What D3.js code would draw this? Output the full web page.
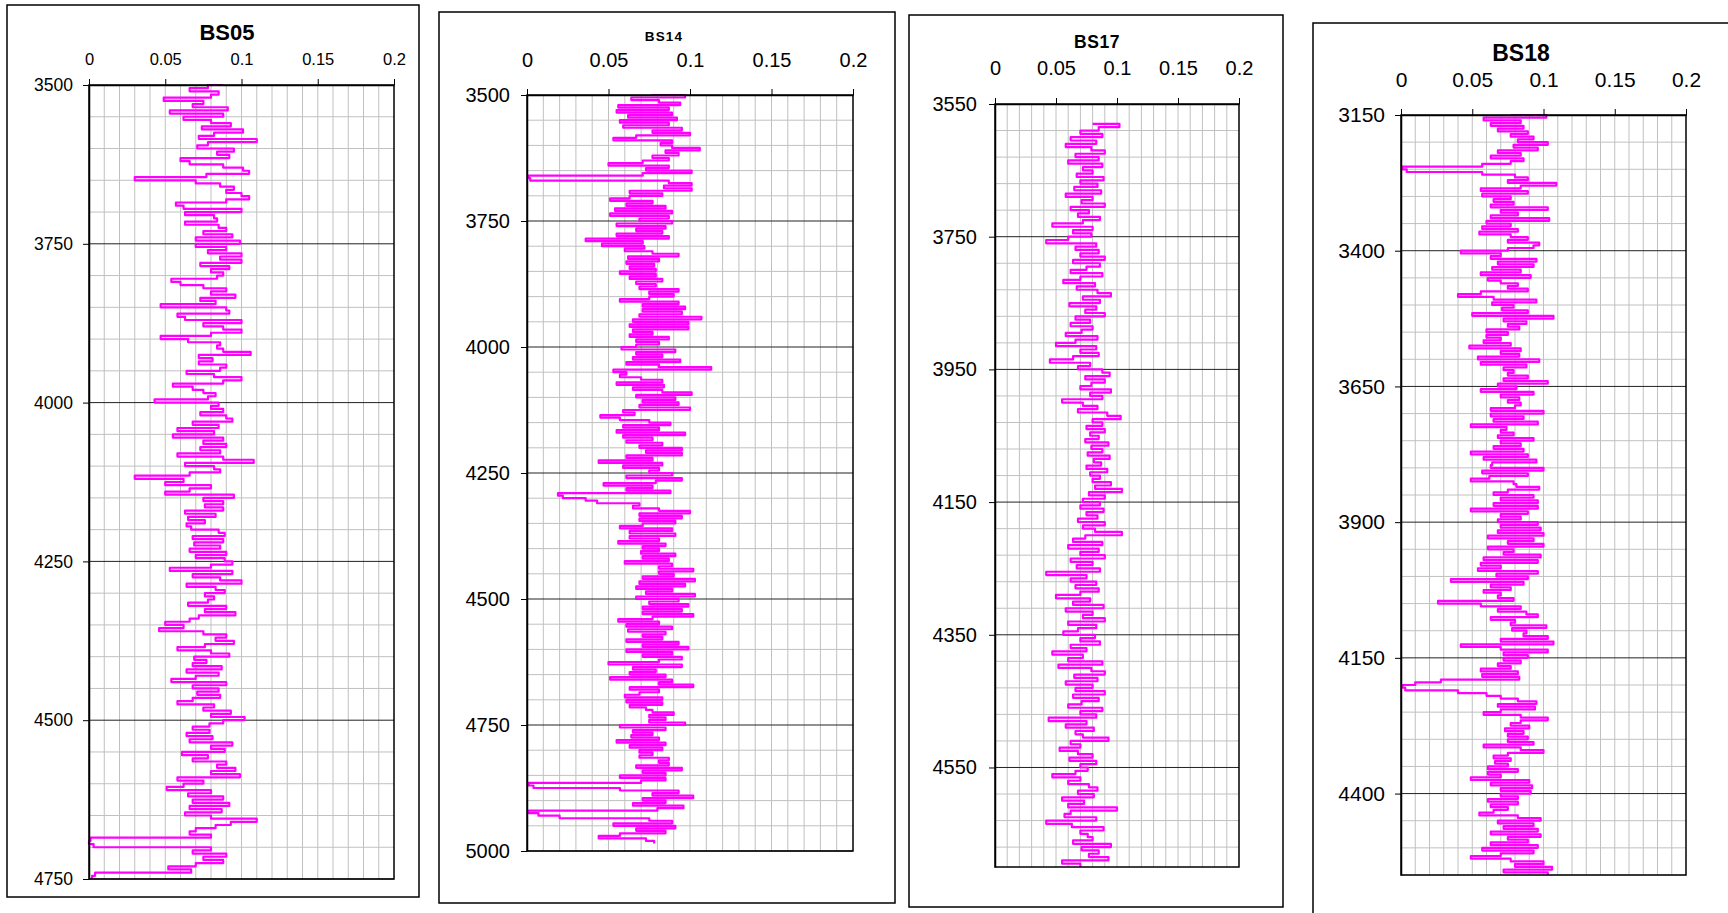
<!DOCTYPE html>
<html>
<head>
<meta charset="utf-8">
<script src="https://cdn.jsdelivr.net/npm/d3@7"></script>
<style>
  body { margin: 0; background: #fff; }
  text { font-family: "Liberation Sans", Arial, sans-serif; fill: #000; }
</style>
</head>
<body>
<svg id="chart" width="1728" height="913"></svg>
<script>
// porosity axis shared by all four wells
const porosityRange = [0, 0.2];
const porosityTicks = [0, 0.05, 0.1, 0.15, 0.2];
const porosityMinor = 0.01;

// depth axes (m)
const bs05DepthRange = [3500, 4750];
const bs05DepthTicks = [3500, 3750, 4000, 4250, 4500, 4750];
const bs14DepthRange = [3500, 5000];
const bs14DepthTicks = [3500, 3750, 4000, 4250, 4500, 4750, 5000];
const bs17DepthRange = [3550, 4700];
const bs17DepthTicks = [3550, 3750, 3950, 4150, 4350, 4550];
const bs18DepthRange = [3150, 4550];
const bs18DepthTicks = [3150, 3400, 3650, 3900, 4150, 4400];

// log curves: first sample depth, sample spacing, porosity readings (one per sample)
const bs05Top = 3500, bs05Step = 5;
const bs05Values = [
  0.088, 0.078, 0.066, 0.085, 0.080, 0.049, 0.075, 0.068, 0.091, 0.053,
  0.088, 0.062, 0.080, 0.093, 0.074, 0.101, 0.082, 0.072, 0.110, 0.078,
  0.071, 0.095, 0.084, 0.092, 0.060, 0.066, 0.088, 0.101, 0.105, 0.077,
  0.030, 0.070, 0.086, 0.095, 0.090, 0.100, 0.105, 0.090, 0.057, 0.062,
  0.100, 0.063, 0.082, 0.084, 0.063, 0.085, 0.090, 0.075, 0.094, 0.070,
  0.099, 0.070, 0.090, 0.078, 0.100, 0.086, 0.100, 0.073, 0.092, 0.080,
  0.088, 0.084, 0.054, 0.060, 0.075, 0.090, 0.080, 0.096, 0.073, 0.083,
  0.047, 0.090, 0.092, 0.058, 0.063, 0.100, 0.075, 0.088, 0.100, 0.080,
  0.047, 0.065, 0.086, 0.084, 0.088, 0.106, 0.072, 0.081, 0.072, 0.090,
  0.086, 0.064, 0.082, 0.100, 0.088, 0.055, 0.068, 0.075, 0.083, 0.078,
  0.043, 0.085, 0.080, 0.088, 0.073, 0.090, 0.094, 0.068, 0.085, 0.058,
  0.082, 0.055, 0.088, 0.075, 0.090, 0.073, 0.086, 0.058, 0.088, 0.108,
  0.063, 0.082, 0.086, 0.066, 0.030, 0.062, 0.050, 0.080, 0.066, 0.050,
  0.095, 0.075, 0.088, 0.076, 0.088, 0.063, 0.083, 0.065, 0.076, 0.064,
  0.067, 0.085, 0.089, 0.068, 0.088, 0.069, 0.086, 0.066, 0.090, 0.070,
  0.089, 0.094, 0.080, 0.053, 0.094, 0.068, 0.086, 0.100, 0.064, 0.083,
  0.089, 0.076, 0.082, 0.078, 0.065, 0.090, 0.076, 0.096, 0.072, 0.066,
  0.050, 0.062, 0.046, 0.075, 0.090, 0.083, 0.095, 0.076, 0.058, 0.080,
  0.092, 0.069, 0.077, 0.068, 0.087, 0.064, 0.085, 0.070, 0.054, 0.090,
  0.068, 0.085, 0.071, 0.086, 0.068, 0.058, 0.082, 0.075, 0.093, 0.080,
  0.102, 0.088, 0.079, 0.068, 0.079, 0.064, 0.081, 0.066, 0.094, 0.080,
  0.089, 0.061, 0.078, 0.068, 0.090, 0.084, 0.096, 0.080, 0.099, 0.058,
  0.075, 0.062, 0.051, 0.080, 0.065, 0.088, 0.068, 0.092, 0.066, 0.087,
  0.063, 0.080, 0.110, 0.093, 0.083, 0.070, 0.066, 0.080, 0.001, 0.000,
  0.003, 0.080, 0.068, 0.090, 0.075, 0.088, 0.070, 0.052, 0.067, 0.004,
  0.002
];

const bs14Top = 3500, bs14Step = 5;
const bs14Values = [
  0.076, 0.097, 0.064, 0.081, 0.094, 0.056, 0.087, 0.055, 0.089, 0.062,
  0.092, 0.057, 0.087, 0.059, 0.095, 0.077, 0.100, 0.067, 0.053, 0.089,
  0.082, 0.089, 0.106, 0.085, 0.093, 0.077, 0.087, 0.071, 0.050, 0.087,
  0.073, 0.101, 0.071, 0.001, 0.002, 0.087, 0.101, 0.084, 0.101, 0.063,
  0.083, 0.063, 0.051, 0.077, 0.061, 0.085, 0.054, 0.089, 0.051, 0.087,
  0.069, 0.089, 0.055, 0.085, 0.067, 0.083, 0.055, 0.087, 0.036, 0.071,
  0.046, 0.072, 0.060, 0.077, 0.093, 0.062, 0.081, 0.061, 0.078, 0.063,
  0.079, 0.057, 0.079, 0.063, 0.083, 0.067, 0.079, 0.069, 0.093, 0.075,
  0.090, 0.075, 0.057, 0.093, 0.071, 0.097, 0.071, 0.095, 0.069, 0.107,
  0.065, 0.099, 0.063, 0.099, 0.065, 0.077, 0.063, 0.087, 0.067, 0.081,
  0.067, 0.058, 0.091, 0.067, 0.083, 0.065, 0.094, 0.061, 0.081, 0.113,
  0.053, 0.061, 0.057, 0.070, 0.083, 0.055, 0.084, 0.065, 0.083, 0.101,
  0.067, 0.091, 0.071, 0.093, 0.069, 0.100, 0.059, 0.066, 0.045, 0.057,
  0.075, 0.088, 0.059, 0.081, 0.055, 0.097, 0.059, 0.077, 0.061, 0.083,
  0.069, 0.095, 0.073, 0.095, 0.061, 0.077, 0.044, 0.083, 0.059, 0.081,
  0.075, 0.089, 0.061, 0.095, 0.079, 0.047, 0.077, 0.061, 0.088, 0.019,
  0.022, 0.036, 0.043, 0.069, 0.065, 0.081, 0.100, 0.069, 0.095, 0.069,
  0.091, 0.071, 0.057, 0.089, 0.063, 0.091, 0.063, 0.081, 0.056, 0.085,
  0.071, 0.081, 0.070, 0.091, 0.071, 0.087, 0.060, 0.089, 0.081, 0.102,
  0.081, 0.090, 0.071, 0.103, 0.069, 0.097, 0.067, 0.089, 0.073, 0.103,
  0.067, 0.093, 0.075, 0.099, 0.071, 0.095, 0.071, 0.102, 0.077, 0.056,
  0.081, 0.061, 0.089, 0.062, 0.085, 0.071, 0.083, 0.061, 0.093, 0.071,
  0.099, 0.061, 0.089, 0.071, 0.095, 0.081, 0.050, 0.095, 0.065, 0.079,
  0.063, 0.085, 0.051, 0.089, 0.081, 0.102, 0.063, 0.081, 0.069, 0.060,
  0.083, 0.061, 0.083, 0.063, 0.073, 0.077, 0.090, 0.075, 0.085, 0.075,
  0.097, 0.057, 0.085, 0.065, 0.077, 0.064, 0.081, 0.055, 0.085, 0.063,
  0.083, 0.069, 0.077, 0.069, 0.087, 0.081, 0.087, 0.067, 0.095, 0.071,
  0.085, 0.057, 0.085, 0.070, 0.001, 0.004, 0.057, 0.093, 0.077, 0.102,
  0.071, 0.085, 0.065, 0.096, 0.080, 0.001, 0.007, 0.020, 0.075, 0.089,
  0.053, 0.091, 0.067, 0.085, 0.057, 0.044, 0.073, 0.078
];

const bs17Top = 3580, bs17Step = 5;
const bs17Values = [
  0.080, 0.102, 0.085, 0.070, 0.088, 0.062, 0.083, 0.058, 0.079, 0.090,
  0.066, 0.085, 0.060, 0.088, 0.072, 0.080, 0.067, 0.089, 0.070, 0.084,
  0.065, 0.087, 0.058, 0.080, 0.071, 0.090, 0.062, 0.077, 0.068, 0.086,
  0.072, 0.047, 0.080, 0.064, 0.079, 0.060, 0.042, 0.083, 0.066, 0.085,
  0.070, 0.090, 0.064, 0.086, 0.075, 0.062, 0.088, 0.070, 0.056, 0.082,
  0.067, 0.084, 0.095, 0.072, 0.086, 0.061, 0.083, 0.074, 0.090, 0.066,
  0.078, 0.062, 0.080, 0.071, 0.058, 0.084, 0.066, 0.050, 0.083, 0.070,
  0.085, 0.064, 0.045, 0.078, 0.068, 0.088, 0.094, 0.074, 0.090, 0.079,
  0.070, 0.095, 0.078, 0.088, 0.055, 0.072, 0.084, 0.068, 0.092, 0.103,
  0.080, 0.088, 0.075, 0.090, 0.078, 0.085, 0.074, 0.093, 0.079, 0.088,
  0.076, 0.094, 0.081, 0.087, 0.075, 0.092, 0.078, 0.086, 0.080, 0.095,
  0.082, 0.104, 0.077, 0.090, 0.072, 0.086, 0.070, 0.089, 0.075, 0.084,
  0.068, 0.090, 0.072, 0.082, 0.104, 0.074, 0.064, 0.088, 0.060, 0.085,
  0.070, 0.090, 0.062, 0.080, 0.067, 0.086, 0.042, 0.075, 0.062, 0.083,
  0.066, 0.085, 0.070, 0.050, 0.078, 0.064, 0.089, 0.058, 0.080, 0.072,
  0.090, 0.060, 0.083, 0.068, 0.056, 0.082, 0.070, 0.086, 0.062, 0.075,
  0.047, 0.072, 0.060, 0.088, 0.052, 0.079, 0.090, 0.065, 0.084, 0.058,
  0.080, 0.066, 0.090, 0.064, 0.085, 0.071, 0.060, 0.088, 0.070, 0.083,
  0.044, 0.075, 0.058, 0.081, 0.066, 0.072, 0.093, 0.062, 0.070, 0.053,
  0.068, 0.080, 0.061, 0.083, 0.070, 0.076, 0.066, 0.047, 0.070, 0.060,
  0.077, 0.084, 0.068, 0.081, 0.055, 0.073, 0.060, 0.100, 0.062, 0.057,
  0.083, 0.042, 0.063, 0.089, 0.070, 0.076, 0.080, 0.064, 0.095, 0.071,
  0.085, 0.077, 0.093, 0.055, 0.070
];

const bs18Top = 3150, bs18Step = 5;
const bs18Values = [
  0.077, 0.102, 0.058, 0.084, 0.063, 0.086, 0.068, 0.089, 0.077, 0.093,
  0.082, 0.103, 0.079, 0.096, 0.068, 0.084, 0.063, 0.086, 0.077, 0.057,
  0.001, 0.004, 0.057, 0.080, 0.089, 0.075, 0.109, 0.084, 0.056, 0.089,
  0.057, 0.077, 0.065, 0.079, 0.063, 0.103, 0.070, 0.082, 0.063, 0.104,
  0.060, 0.077, 0.057, 0.082, 0.055, 0.077, 0.089, 0.075, 0.097, 0.093,
  0.075, 0.042, 0.070, 0.063, 0.095, 0.068, 0.093, 0.064, 0.084, 0.056,
  0.091, 0.061, 0.070, 0.082, 0.075, 0.089, 0.056, 0.040, 0.065, 0.095,
  0.064, 0.079, 0.071, 0.089, 0.050, 0.107, 0.072, 0.088, 0.075, 0.083,
  0.060, 0.075, 0.060, 0.070, 0.058, 0.077, 0.048, 0.084, 0.070, 0.083,
  0.054, 0.097, 0.056, 0.088, 0.072, 0.079, 0.075, 0.089, 0.072, 0.103,
  0.068, 0.081, 0.056, 0.093, 0.070, 0.083, 0.075, 0.084, 0.080, 0.063,
  0.100, 0.063, 0.086, 0.065, 0.096, 0.049, 0.074, 0.070, 0.079, 0.068,
  0.093, 0.070, 0.084, 0.065, 0.086, 0.049, 0.089, 0.058, 0.095, 0.064,
  0.063, 0.100, 0.057, 0.089, 0.062, 0.049, 0.079, 0.081, 0.097, 0.075,
  0.065, 0.093, 0.070, 0.096, 0.065, 0.096, 0.049, 0.089, 0.070, 0.084,
  0.068, 0.096, 0.070, 0.098, 0.068, 0.100, 0.061, 0.093, 0.075, 0.100,
  0.061, 0.079, 0.072, 0.098, 0.058, 0.096, 0.056, 0.070, 0.054, 0.096,
  0.067, 0.089, 0.035, 0.086, 0.063, 0.077, 0.058, 0.070, 0.068, 0.079,
  0.026, 0.056, 0.084, 0.068, 0.088, 0.096, 0.063, 0.080, 0.077, 0.102,
  0.078, 0.088, 0.086, 0.103, 0.070, 0.107, 0.042, 0.070, 0.103, 0.072,
  0.089, 0.072, 0.084, 0.068, 0.077, 0.056, 0.082, 0.057, 0.083, 0.028,
  0.010, 0.001, 0.003, 0.040, 0.060, 0.070, 0.082, 0.095, 0.068, 0.094,
  0.070, 0.058, 0.084, 0.103, 0.084, 0.077, 0.090, 0.073, 0.086, 0.075,
  0.089, 0.075, 0.093, 0.058, 0.084, 0.100, 0.075, 0.065, 0.077, 0.066,
  0.075, 0.061, 0.082, 0.061, 0.070, 0.049, 0.090, 0.063, 0.092, 0.070,
  0.091, 0.070, 0.082, 0.061, 0.082, 0.063, 0.075, 0.065, 0.055, 0.082,
  0.098, 0.068, 0.093, 0.072, 0.096, 0.063, 0.098, 0.075, 0.089, 0.063,
  0.096, 0.057, 0.093, 0.070, 0.049, 0.077, 0.100, 0.080, 0.106, 0.072,
  0.103
];

// page layout of each chart (frame, plot area, title, text sizes)
const panels = [
  { name: "BS05", values: bs05Values, top: bs05Top, step: bs05Step,
    range: bs05DepthRange, ticks: bs05DepthTicks, minor: 50,
    frame: [7, 5, 419, 897], plot: [89, 85, 394, 879],
    title: { x: 227, y: 40, size: 22, spacing: 0 },
    xFont: 16.5, yFont: 17.5, xPad: 14, yPad: 10 },
  { name: "BS14", values: bs14Values, top: bs14Top, step: bs14Step,
    range: bs14DepthRange, ticks: bs14DepthTicks, minor: 50,
    frame: [439, 12, 895, 903], plot: [527, 95, 853, 851],
    title: { x: 664, y: 41, size: 13.5, spacing: 1.2 },
    xFont: 20, yFont: 20, xPad: 22, yPad: 11 },
  { name: "BS17", values: bs17Values, top: bs17Top, step: bs17Step,
    range: bs17DepthRange, ticks: bs17DepthTicks, minor: 40,
    frame: [909, 15, 1283, 907], plot: [995, 104, 1239, 867],
    title: { x: 1097, y: 48, size: 17.5, spacing: 0.5 },
    xFont: 20, yFont: 20, xPad: 23, yPad: 12 },
  { name: "BS18", values: bs18Values, top: bs18Top, step: bs18Step,
    range: bs18DepthRange, ticks: bs18DepthTicks, minor: 50,
    frame: [1313, 23, 1760, 940], plot: [1401, 115, 1686, 875],
    title: { x: 1521, y: 61, size: 23, spacing: 0 },
    xFont: 21, yFont: 21, xPad: 22, yPad: 10 }
];

const svg = d3.select("#chart");
svg.append("rect").attr("width", 1728).attr("height", 913).attr("fill", "#fff");

const fmtPor = d => d === 0 ? "0" : String(+d.toFixed(2));

panels.forEach(function (p) {
  const g = svg.append("g").attr("class", "well " + p.name);
  const [px0, py0, px1, py1] = p.plot;

  // outer frame
  g.append("rect")
    .attr("x", p.frame[0]).attr("y", p.frame[1])
    .attr("width", p.frame[2] - p.frame[0]).attr("height", p.frame[3] - p.frame[1])
    .attr("fill", "#fff").attr("stroke", "#000").attr("stroke-width", 1.5);

  const x = d3.scaleLinear().domain(porosityRange).range([px0, px1]);
  const y = d3.scaleLinear().domain(p.range).range([py0, py1]);

  // minor grid
  const vMinor = d3.range(porosityRange[0] + porosityMinor, porosityRange[1] - 1e-9, porosityMinor);
  g.append("g").selectAll("line").data(vMinor).enter().append("line")
    .attr("x1", d => x(d)).attr("x2", d => x(d))
    .attr("y1", py0).attr("y2", py1)
    .attr("stroke", "#c0c0c0").attr("stroke-width", 1);

  const hMinor = d3.range(p.range[0], p.range[1] + 1e-6, p.minor)
    .filter(d => !p.ticks.includes(d));
  g.append("g").selectAll("line").data(hMinor).enter().append("line")
    .attr("x1", px0).attr("x2", px1)
    .attr("y1", d => y(d)).attr("y2", d => y(d))
    .attr("stroke", "#c0c0c0").attr("stroke-width", 1);

  // major depth lines
  g.append("g").selectAll("line").data(p.ticks.slice(1)).enter().append("line")
    .attr("x1", px0).attr("x2", px1)
    .attr("y1", d => y(d)).attr("y2", d => y(d))
    .attr("stroke", "#222").attr("stroke-width", 1);

  // log curve
  const pts = p.values.map((v, i) => ({ depth: p.top + i * p.step, por: v }));
  const line = d3.line()
    .x(d => x(d.por))
    .y(d => y(d.depth))
    .curve(d3.curveStepAfter);
  g.append("path")
    .datum(pts)
    .attr("d", line)
    .attr("fill", "none")
    .attr("stroke", "#ff00ff")
    .attr("stroke-width", 2.2)
    .attr("stroke-linejoin", "round");

  // plot border
  g.append("rect")
    .attr("x", px0).attr("y", py0)
    .attr("width", px1 - px0).attr("height", py1 - py0)
    .attr("fill", "none").attr("stroke", "#000").attr("stroke-width", 1.5);

  // axes
  const xAxis = d3.axisTop(x).tickValues(porosityTicks).tickFormat(fmtPor)
    .tickSize(6).tickSizeOuter(0).tickPadding(p.xPad);
  const ax = g.append("g").attr("transform", `translate(0,${py0})`).call(xAxis);

  const yAxis = d3.axisLeft(y).tickValues(p.ticks).tickFormat(d3.format("d"))
    .tickSize(6).tickSizeOuter(0).tickPadding(p.yPad);
  const ay = g.append("g").attr("transform", `translate(${px0},0)`).call(yAxis);

  [[ax, p.xFont], [ay, p.yFont]].forEach(([a, fs]) => {
    a.attr("font-family", null).attr("font-size", null);
    a.select(".domain").attr("stroke", "#000").attr("stroke-width", 1.5);
    a.selectAll(".tick line").attr("stroke", "#000").attr("stroke-width", 1);
    a.selectAll(".tick text")
      .style("font-family", '"Liberation Sans", Arial, sans-serif')
      .style("font-size", fs + "px")
      .attr("fill", "#000");
  });

  // title
  g.append("text")
    .attr("x", p.title.x).attr("y", p.title.y)
    .attr("text-anchor", "middle")
    .style("font-size", p.title.size + "px")
    .style("font-weight", "bold")
    .style("letter-spacing", p.title.spacing + "px")
    .text(p.name);
});
</script>
</body>
</html>
